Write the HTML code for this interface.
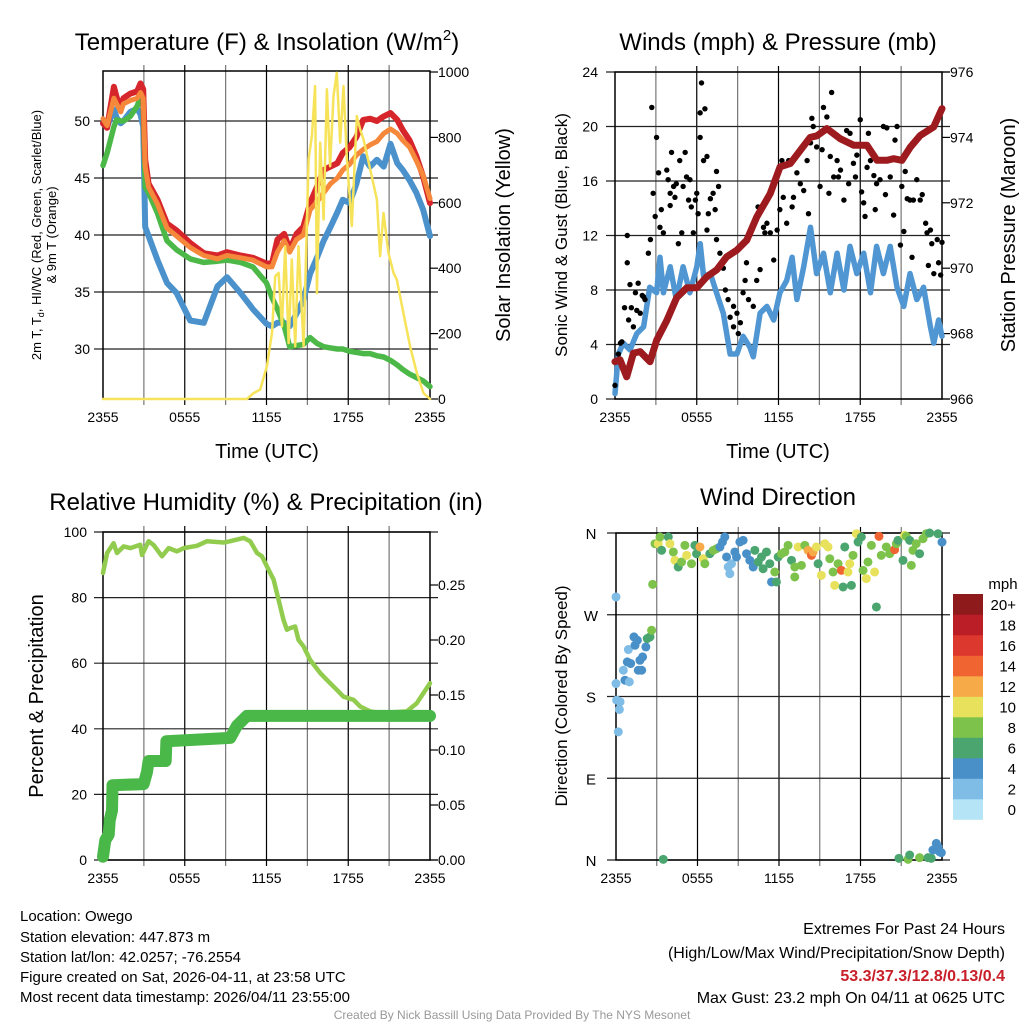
<!DOCTYPE html>
<html><head><meta charset="utf-8">
<style>
html,body{margin:0;padding:0;background:#fff;}
svg{display:block;font-family:"Liberation Sans",Arial,sans-serif;}
</style></head>
<body>
<svg id="fig" width="1024" height="1024" viewBox="0 0 1024 1024" xmlns="http://www.w3.org/2000/svg">
<rect width="1024" height="1024" fill="#fff"/>
<g id="static" font-size="14" fill="#000">
<text x="267" y="50" font-size="24" text-anchor="middle">Temperature (F) &amp; Insolation (W/m<tspan font-size="15" dy="-10">2</tspan><tspan dy="10">)</tspan></text>
<text x="778" y="50" font-size="24" text-anchor="middle">Winds (mph) &amp; Pressure (mb)</text>
<text x="266" y="510" font-size="24" text-anchor="middle">Relative Humidity (%) &amp; Precipitation (in)</text>
<text x="778" y="505" font-size="24" text-anchor="middle">Wind Direction</text>
<text x="267" y="458" font-size="20" text-anchor="middle">Time (UTC)</text>
<text x="778" y="458" font-size="20" text-anchor="middle">Time (UTC)</text>
<text transform="translate(41,235) rotate(-90)" font-size="13" text-anchor="middle">2m T, T<tspan font-size="9" dy="3">d</tspan><tspan dy="-3">, HI/WC (Red, Green, Scarlet/Blue)</tspan></text>
<text transform="translate(56,235) rotate(-90)" font-size="13" text-anchor="middle">&amp; 9m T (Orange)</text>
<text transform="translate(510,235) rotate(-90)" font-size="20" text-anchor="middle">Solar Insolation (Yellow)</text>
<text transform="translate(567,235) rotate(-90)" font-size="17" text-anchor="middle">Sonic Wind &amp; Gust (Blue, Black)</text>
<text transform="translate(1015,235) rotate(-90)" font-size="20" text-anchor="middle">Station Pressure (Maroon)</text>
<text transform="translate(43,696) rotate(-90)" font-size="20" text-anchor="middle">Percent &amp; Precipitation</text>
<text transform="translate(567,696) rotate(-90)" font-size="17" text-anchor="middle">Direction (Colored By Speed)</text>
<g font-size="15">
<text x="20" y="921">Location: Owego</text>
<text x="20" y="942">Station elevation: 447.873 m</text>
<text x="20" y="962">Station lat/lon: 42.0257; -76.2554</text>
<text x="20" y="982">Figure created on Sat, 2026-04-11, at 23:58 UTC</text>
<text x="20" y="1002">Most recent data timestamp: 2026/04/11 23:55:00</text>
</g>
<g font-size="16" text-anchor="end">
<text x="1005" y="934">Extremes For Past 24 Hours</text>
<text x="1005" y="958">(High/Low/Max Wind/Precipitation/Snow Depth)</text>
<text x="1005" y="981" fill="#c8202a" font-weight="bold">53.3/37.3/12.8/0.13/0.4</text>
<text x="1005" y="1003">Max Gust: 23.2 mph On 04/11 at 0625 UTC</text>
</g>
<text x="512" y="1019" font-size="12" fill="#999" text-anchor="middle">Created By Nick Bassill Using Data Provided By The NYS Mesonet</text>
</g>
</svg>
<script>
// ---------- Temperature panel data ----------
const tHours = [0,0.3,0.8,1,1.3,1.5,2,2.5,2.75,2.95,3.1,3.35,4,4.7,5.4,6.4,7.4,8.4,9.1,10.1,11,12,12.4,12.8,13.3,13.7,14.2,14.7,15.2,15.7,16.2,16.7,17.2,17.6,18.1,18.6,19.1,19.6,20.1,20.6,21.1,21.6,22,22.5,23,23.5,24];
const tempRed = [49.8,49.4,53,52.1,51,52,52.4,52.6,53.3,52.8,46.6,44.5,43.1,41,40.4,39.3,38.4,38.2,38.5,38.2,38,37.5,37.5,39.6,40.1,38.7,40.1,40.7,42.8,44.2,45.7,46,46.3,47.2,47.7,48.6,50.1,50.2,50,50.4,50.7,50.1,49.2,48.3,46.9,45.1,42.8];
const tempOrange = [50.2,49.6,52,51.5,50.8,51.5,51.8,52,52.5,52,46,44.2,42.7,40.6,39.9,38.9,38.2,37.9,38.2,38,37.8,37.2,37.2,38.5,39.5,38.5,39.6,40,42.2,42.9,43.7,44.5,45,45.7,46.2,47,47.5,47.9,48.2,48.9,49.3,48.9,48.3,47.7,46.5,45.2,43.2];
const tempGreen = [46.1,47.2,49.5,50.1,50,50,50.4,51.3,52.1,51.2,44.2,43.7,41.9,39.5,38.7,37.9,37.6,37.7,37.8,37.6,37.2,35.8,34.5,33.5,32,30.2,30.3,30.4,31,30.5,30.2,30.1,30,30,29.8,29.7,29.6,29.6,29.4,29.3,29,28.6,28.2,27.8,27.5,27.2,26.7];
const tempBlue = [49.8,49.5,51,50.3,49.8,50,50.8,51.1,50.6,49.5,40.7,39.9,37.8,35.8,34.9,32.5,32.3,35.5,36.3,34.9,33.5,32.2,32,32.3,32.3,32,33.1,34.3,36.6,38,39.5,40.7,42,43.1,42.8,44.5,46.9,46,46.6,46,48,46.3,45.7,44.8,43.7,42.2,39.9];
const solarHours = [0,10.56,11.05,11.54,12.03,12.4,12.64,12.89,13.13,13.37,13.62,13.86,14.11,14.35,14.72,15.09,15.33,15.57,15.7,15.94,16.19,16.43,16.67,16.92,17.16,17.41,17.65,17.9,18.26,18.63,18.88,19.12,19.61,20.1,20.34,20.59,20.95,21.32,21.56,22.05,22.54,23.03,23.52,24];
const solarValues = [0,0,18,29,100,202,375,386,222,467,171,427,161,467,161,733,804,957,324,784,549,947,712,927,998,784,957,733,529,865,824,794,702,610,437,569,447,386,365,263,161,80,18,0];
const tempTicks = [30,35,40,45,50];
const solarTicks = [0,200,400,600,800,1000];
const timeLabels = ["2355","0555","1155","1755","2355"];
// ---------- Wind panel data ----------
const windHours = [0,0.25,0.6,1.1,1.6,2.1,2.55,3.05,3.3,3.55,4.05,4.5,5,5.5,6,6.25,6.5,7,7.45,7.95,8.45,8.95,9.4,9.9,10.15,10.65,11.15,11.65,12.1,12.6,13,13.35,13.85,14.35,14.8,15.3,15.8,16.3,16.8,17.25,17.75,18.25,18.75,19.2,19.7,20.2,20.7,21.2,21.65,22.15,22.65,23.15,23.4,23.75,24];
const windSpeed = [0.4,3.3,4.1,3.6,4.8,5.3,8.2,7.8,10.4,7.8,9.7,7.3,9.7,7.8,9.7,11.4,9,9.2,7.8,6.3,3.3,3.3,4.6,3.8,3.1,6.3,6.8,5.8,7.8,8.7,10.4,7.3,9.7,12.6,9.2,10.7,7.8,10.7,8,11.2,9.2,10.7,7.8,11.2,9.2,11.2,8.2,6.8,9.2,7.3,8.2,5.3,4.1,5.8,4.6];
const gustHours = [0,0.25,0.4,0.5,0.7,0.9,0.9,1,1.1,1.2,1.35,1.5,1.6,1.7,1.85,2,2.1,2.2,2.45,2.6,2.7,2.8,2.95,3.05,3.2,3.3,3.4,3.55,3.8,3.9,4.05,4.05,4.15,4.3,4.4,4.5,4.65,4.75,4.9,5,5.15,5.25,5.4,5.5,5.6,5.75,5.9,6,6.1,6.25,6.25,6.35,6.5,6.6,6.75,6.75,6.85,7,7.2,7.35,7.45,7.45,7.6,7.7,7.95,8.1,8.3,8.45,8.7,8.7,8.95,9.05,9.2,9.4,9.55,9.65,9.8,10.15,10.4,10.5,10.65,10.9,11,11.15,11.4,11.65,11.9,12.1,12.25,12.35,12.6,12.75,13,13.1,13.35,13.6,13.6,13.85,14.1,14.2,14.35,14.45,14.55,14.8,15.05,15.2,15.3,15.55,15.7,15.8,15.9,16.05,16.3,16.4,16.55,16.8,17,17.15,17.25,17.5,17.65,17.75,18,18.1,18.25,18.35,18.5,18.6,18.75,19,19.1,19.2,19.45,19.7,19.85,19.95,20.2,20.45,20.55,20.7,20.95,21.05,21.2,21.3,21.45,21.65,21.8,21.9,22.15,22.4,22.55,22.8,22.9,23,23.15,23.25,23.4,23.65,23.75,23.9,24];
const gustSpeed = [1,3.3,4.1,4.2,6.7,12,10,5.8,8.4,6.7,5.3,7.8,6.5,8.5,6.3,7.6,7.5,7.3,10.7,11.7,21.4,15.1,13.4,19.2,16.6,12.6,13.9,12.2,16.8,16.1,14.2,15.1,18.1,15.6,14.8,15.8,11.4,17.5,12.2,15.6,18.1,16.3,14.6,16.1,14.1,12.2,14.6,15.1,13.6,19.2,21,23.2,17.5,21.3,12.4,17.8,13.6,14.7,15.1,13.9,16.7,11.7,15.6,10.7,9.6,8,7.3,6,6.8,5.3,6.3,4.8,5.6,7.8,8.7,10,7.3,6.8,8.7,14.1,9.5,12.6,12.2,12.9,12.2,10.2,12.4,13.9,17.5,14.8,12.9,17.5,14.1,14.8,16.6,18.3,15.8,15.3,17.5,13.6,18.8,20.6,20,18.5,15.6,18.3,21.4,20.7,15.1,17.8,22.5,16.3,17.5,16.3,16.8,14.6,19.7,15.8,19.5,17.3,16.3,17.9,20.5,15.2,14.4,13.4,17,19.5,17.5,16.4,13.9,15.8,16.1,20,15,19.9,16.3,13.5,19,20,11.3,15.6,12.3,16.7,14.7,14.6,10.4,14.6,16.1,14.6,15,12.9,12.2,9.8,12.4,11.4,9.2,11.7,10,9.1,11.5];
const presHours = [0,0.37,0.86,1.35,1.84,2.57,3.06,3.8,4.53,5.27,6,6.74,7.47,8.2,8.94,9.67,10.41,11.39,12.12,12.86,13.59,14.33,14.82,15.55,16.53,17.51,18.49,19.23,19.96,20.45,21.06,21.67,22.41,23.39,24];
const presValues = [967.14,967.2,966.68,967.4,967.45,967.14,967.8,968.4,969.1,969.4,969.4,969.74,969.95,970.35,970.55,970.86,971.57,972.28,973.1,973.2,973.6,974,974.05,974.27,973.96,973.76,973.76,973.3,973.3,973.35,973.3,973.7,974.06,974.32,974.88];
const windTicks = [0,4,8,12,16,20,24];
const presTicks = [966,968,970,972,974,976];
// ---------- Humidity panel data ----------
const rhHours = [0,0.3,0.78,1.03,1.52,2,2.74,2.86,3.35,3.72,4.33,4.82,5.43,5.92,6.9,7.63,8.85,9.34,10.32,10.8,11.3,11.66,12.03,12.52,12.89,13.25,13.5,13.74,14.1,14.35,14.72,15.2,15.94,16.43,17.16,17.65,18.39,18.88,19.61,20.34,22.3,23.03,23.52,24];
const rhValues = [87.5,93.6,96.6,93.6,95.6,95.1,96.1,93,97.2,96,92.6,95.1,94.1,95.1,95.8,97.2,96.8,97.2,98.2,97.2,93.6,92.6,89.5,85.5,79.3,73.2,70.2,70.7,71.2,67.1,65.1,61,57,54.9,51.9,49.8,48.8,46.8,45.3,44.8,45.3,47.8,50.9,53.9];
const precipHours = [0,0.17,0.42,0.49,0.66,0.7,2.98,3.23,3.35,4.6,4.65,9.34,9.83,10.56,24];
const precipValues = [0.003,0.018,0.023,0.036,0.045,0.068,0.069,0.08,0.09,0.09,0.108,0.111,0.122,0.131,0.131];
const rhTicks = [0,20,40,60,80,100];
const precipTicks = [0,0.05,0.1,0.15,0.2,0.25];
// ---------- Wind direction data ----------
const dirHours = [0,0,0.05,0.3,0.25,0.17,0.54,0.66,0.98,0.83,1.08,0.91,1.4,1.32,1.57,1.64,1.89,1.76,1.96,2.2,2.3,2.5,2.62,2.7,3.48,
2.87,3.11,3.24,3.85,3.97,3.36,4.22,4.34,4.58,4.83,5.07,5.2,5.56,5.81,5.93,6.18,6.42,6.54,6.91,7.16,7.4,7.65,7.84,8.01,8.14,8.26,8.38,8.5,8.75,8.87,9.12,9.36,9.61,9.85,10.1,10.22,10.47,10.71,10.83,11.08,11.32,11.45,11.69,11.81,11.94,12.18,12.43,12.67,12.92,13.16,13.16,13.41,13.65,13.9,14.14,14.39,14.51,14.75,14.88,15.12,15.37,15.61,15.74,15.98,16.1,16.35,16.59,16.72,16.84,17.08,17.21,17.33,17.45,17.7,17.82,18.06,18.19,18.43,18.55,18.8,19.04,19.17,19.36,19.53,19.9,20.15,20.51,20.64,20.76,21.13,21.25,21.37,21.62,21.74,21.86,22.1,22.35,22.6,22.84,23.09,23.7,24,
20.83,21.5,21.62,22.35,22.97,23.21,23.33,23.58,23.7,23.82,23.95];
const dirValues = [289.6,194.3,176,174.1,165.7,141.1,208.9,197.9,196.1,218.1,216.3,231.7,236.4,245.6,241.9,208.9,208.9,219.9,223.6,234.6,243.8,245.6,252.9,303.5,0.7,
348.2,348.2,355.6,355.6,348.2,341,339.1,329.9,322.6,328.1,346.4,335.4,326.2,346.4,337.2,344.6,331.7,326.2,337.2,340.9,342.7,344.6,350.1,355.6,333.6,322.6,315.2,326.2,339.1,333.6,350.1,351.9,337.2,329.9,322.6,340.9,328.1,333.6,320.7,339.1,326.2,306.1,317.1,306.1,333.6,337.2,339.1,346.4,329.9,322.6,311.6,344.6,324.4,346.4,340.9,335.4,339.1,344.6,326.2,313.4,348.2,344.6,331.7,317.1,302.4,326.2,318.9,300.6,344.6,317.1,326.2,302.4,335.4,359.2,350.1,355.6,318.9,309.8,328.1,346.4,317.1,278.6,356.3,335.4,344.6,337.2,341.6,348.2,351.9,329.9,357.4,356.3,351.9,324.4,340.9,348.2,337.2,353.7,359.2,360,359.2,350,
1.8,0.7,5.5,2.6,2.6,1.8,11,18.3,14.7,9.2,8.1];
const dirSpeed = [2,2,2,2,2,2,2,4,2,4,4,2,4,4,4,4,4,4,4,4,6,6,8,8,6,
8,10,8,6,10,6,8,10,6,8,8,10,8,6,6,12,10,8,6,8,8,4,4,4,4,2,2,2,4,4,4,4,4,4,4,6,6,6,6,6,6,4,8,6,6,8,8,8,6,8,8,10,8,8,12,14,12,10,6,10,10,10,8,8,10,8,14,6,6,10,10,6,8,10,6,6,8,10,8,8,10,6,14,8,8,8,14,8,6,6,10,8,6,8,8,8,6,8,8,6,6,4,
6,8,6,8,6,6,4,4,4,4,4];
const speedLevels = [0,2,4,6,8,10,12,14,16,18,20];
const speedLabels = ["0","2","4","6","8","10","12","14","16","18","20+"];
const dirTickValues = [0,90,180,270,360];
const dirTickLabels = ["N","E","S","W","N"];

const COLORS = ["#b5e4f7","#80bde6","#4a90c8","#4aa56f","#7dc24b","#e7e15c","#f6aa48","#ef6431","#dd382d","#bb1e26","#8f1a1c"];
const NS = "http://www.w3.org/2000/svg";
const svg = document.getElementById("fig");
function mk(tag, attrs, parent){
  const el = document.createElementNS(NS, tag);
  for (const k in attrs) el.setAttribute(k, attrs[k]);
  (parent || svg).appendChild(el);
  return el;
}
function lin(d0,d1,r0,r1){ return v => r0 + (v-d0)/(d1-d0)*(r1-r0); }

function frame(x0,x1,y0,y1,yTicksL,syL,gridName){
  const g = mk("g",{});
  
  
  for (let h=3; h<24; h+=3){
    const sx = lin(0,24,x0,x1);
    const l = mk("line",{x1:sx(h),x2:sx(h),y1:y0-6,y2:y1+6,stroke:(h%6===0)?"#000":"#777","stroke-width":1.2},g);
    
    
  }
  yTicksL.forEach(v=>{
    const y = syL(v);
    const l = mk("line",{x1:x0-9,x2:x1+8,y1:y,y2:y,stroke:"#222","stroke-width":1.2},g);
    
    
  });
  const r = mk("rect",{x:x0,y:y0,width:x1-x0,height:y1-y0,fill:"none",stroke:"#000","stroke-width":1.5},g);
  
  
  const sx = lin(0,24,x0,x1);
  timeLabels.forEach((t,i)=>{
    const tx = mk("text",{x:sx(i*6),y:y1+23,"font-size":14,"text-anchor":"middle"},g);
    tx.textContent = t;
    
    
  });
}
function leftLabels(vals,sy,x,fmt){
  vals.forEach(v=>{
    const t = mk("text",{x:x,y:sy(v)+5,"font-size":14,"text-anchor":"end"});
    t.textContent = fmt?fmt(v):v;
    
    
  });
}
function rightLabels(vals,sy,x,fmt,xr){
  vals.forEach(v=>{
    const y = sy(v);
    const tk = mk("line",{x1:xr,x2:xr+8,y1:y,y2:y,stroke:"#000","stroke-width":1.2});
    
    
    const t = mk("text",{x:x,y:y+5,"font-size":14,"text-anchor":"start"});
    t.textContent = fmt?fmt(v):v;
    
    
  });
}
function line(xs,ys,sx,sy,color,w,name){
  const n = Math.min(xs.length, ys.length);
  let d = "";
  for (let i=0;i<n;i++) d += (i?"L":"M")+sx(xs[i]).toFixed(1)+","+sy(ys[i]).toFixed(1);
  const p = mk("path",{d:d,fill:"none",stroke:color,"stroke-width":w,"stroke-linejoin":"round","stroke-linecap":"round"});
  
  
  return p;
}

// Panel 1
(function(){
  const x0=103,x1=430,y0=71,y1=399;
  const sx = lin(0,24,x0,x1);
  const sy = lin(30,50,349,121);
  const sSolar = lin(0,1000,399,72);
  frame(x0,x1,y0,y1,tempTicks,sy,"temperature-grid");
  leftLabels(tempTicks,sy,90);
  rightLabels(solarTicks,sSolar,438,null,x1);
  line(tHours,tempBlue,sx,sy,"#4b92cc",6,"wind-chill-line");
  line(tHours,tempGreen,sx,sy,"#4cb847",5.5,"dewpoint-line");
  line(tHours,tempRed,sx,sy,"#d7262b",6,"temperature-2m-line");
  line(tHours,tempOrange,sx,sy,"#f5883a",5,"temperature-9m-line");
  line(solarHours,solarValues,sx,sSolar,"#f7e35a",2.5,"solar-insolation-line");
})();

// Panel 2
(function(){
  const x0=615,x1=942,y0=72,y1=399;
  const sx = lin(0,24,x0,x1);
  const sy = lin(0,24,399,72);
  const sp = lin(966,976,399,72);
  frame(x0,x1,y0,y1,windTicks,sy,"wind-grid");
  leftLabels(windTicks,sy,598);
  rightLabels(presTicks,sp,950,null,x1);
  line(windHours,windSpeed,sx,sy,"#4f96d2",5.5,"sonic-wind-line");
  const g = mk("g",{fill:"#000"});
  
  
  const n = Math.min(gustHours.length, gustSpeed.length);
  for (let i=0;i<n;i++){
    const c = mk("circle",{cx:sx(gustHours[i]),cy:sy(gustSpeed[i]),r:2.7},g);
    
    
  }
  line(presHours,presValues,sx,sp,"#9d1b1e",7,"pressure-line");
})();

// Panel 3
(function(){
  const x0=103,x1=430,y0=532,y1=860;
  const sx = lin(0,24,x0,x1);
  const sy = lin(0,100,860,532);
  const sp = lin(0,0.05,860,805);
  frame(x0,x1,y0,y1,rhTicks,sy,"humidity-grid");
  leftLabels(rhTicks,sy,87);
  rightLabels(precipTicks,sp,438,v=>v.toFixed(2),x1);
  line(rhHours,rhValues,sx,sy,"#92cc4f",4.5,"relative-humidity-line");
  line(precipHours,precipValues,sx,sp,"#4ab848",12,"precipitation-line");
})();

// Panel 4
(function(){
  const x0=616,x1=942,y0=533,y1=860;
  const sx = lin(0,24,x0,x1);
  const sy = lin(0,360,860,533);
  frame(x0,x1,y0,y1,dirTickValues,sy,"direction-grid");
  dirTickValues.forEach((v,i)=>{
    const t = mk("text",{x:591,y:sy(v)+6,"font-size":15,"text-anchor":"middle"});
    t.textContent = dirTickLabels[i];
    
    
  });
  const g = mk("g",{});
  
  
  const n = Math.min(dirHours.length, dirValues.length, dirSpeed.length);
  for (let i=0;i<n;i++){
    const ci = Math.min(10, Math.floor(dirSpeed[i]/2));
    const c = mk("circle",{cx:sx(dirHours[i]),cy:sy(Math.min(360,dirValues[i])),r:4.5,fill:COLORS[ci]},g);
    
    
  }
  // legend
  const lg = mk("g",{});
  
  
  const ttl = mk("text",{x:1003,y:589,"font-size":15,"text-anchor":"middle"},lg);
  ttl.textContent = "mph";
  
  
  const m = speedLevels.length;
  speedLevels.forEach((lv,i)=>{
    const y = 594 + (m-1-i)*20.5;
    const r = mk("rect",{x:953,y:y,width:30,height:20.8,fill:COLORS[i]},lg);
    
    
    const t = mk("text",{x:1016,y:y+16,"font-size":15,"text-anchor":"end"},lg);
    t.textContent = speedLabels[i];
    
    
  });
})();
</script>
</body></html>
